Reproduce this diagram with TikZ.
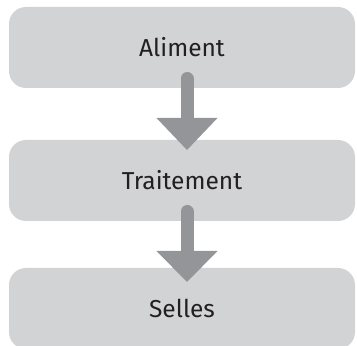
\documentclass[tikz,border=0pt]{standalone}
\usepackage{fontspec}
\setmainfont{Fira Sans}
\definecolor{boxgray}{HTML}{D1D3D4}
\definecolor{arrowgray}{HTML}{939598}
\definecolor{txt}{HTML}{231F20}
\begin{document}
\begin{tikzpicture}[x=1pt,y=1pt,
  stagebox/.style={fill=boxgray, draw=none, rounded corners=17pt, minimum width=346pt, minimum height=81pt, inner sep=0pt, text=txt, font=\fontsize{24.5}{28}\selectfont},
  shaft/.style={draw=arrowgray, line width=13pt, line cap=round},
  head/.style={fill=arrowgray, draw=none}]
\useasboundingbox (0,0) rectangle (357,346);
\begin{scope}
\clip (0,0) rectangle (357,346);
\node[stagebox] (a) at (182,298.5) {Aliment};
\node[stagebox] (b) at (182,165.5) {Traitement};
\node[stagebox] (c) at (182,37.5) {Selles};
\end{scope}
% arrow 1
\coordinate (s1) at (187,267.5);
\coordinate (h1) at (187,228);
\draw[shaft] (s1) -- ([yshift=-2pt]h1);
\fill[head] ([xshift=-30.5pt]h1) -- ([xshift=30.5pt]h1) -- (187,196) -- cycle;
% arrow 2
\coordinate (s2) at (187,134.5);
\coordinate (h2) at (187,95);
\draw[shaft] (s2) -- ([yshift=-2pt]h2);
\fill[head] ([xshift=-30.5pt]h2) -- ([xshift=30.5pt]h2) -- (187,64) -- cycle;
\end{tikzpicture}
\end{document}
